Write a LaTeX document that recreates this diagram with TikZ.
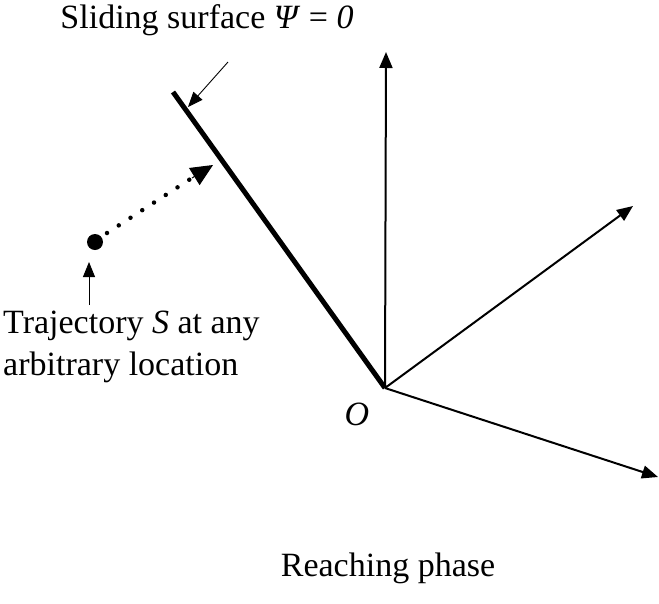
\documentclass[tikz,border=0pt]{standalone}
\usepackage{fontspec}
\setmainfont{Liberation Serif}
\usetikzlibrary{arrows.meta}
\begin{document}
\begin{tikzpicture}[x=1pt,y=-1pt,
  lbl/.style={font=\fontsize{34}{42}\selectfont, inner sep=0pt},
  axis/.style={line width=2pt, -{Triangle[length=16pt,width=13pt]}},
  pointer/.style={line width=0.9pt, -{Triangle[length=15pt,width=12pt]}}]
\useasboundingbox (0,0) rectangle (659,603);
\coordinate (O) at (385,388);
\coordinate (up) at (386,52);
\coordinate (ur) at (633,206);
\coordinate (dr) at (658,477);
\coordinate (top) at (173,92);
\coordinate (pstart) at (228,62);
\coordinate (ptip) at (188,107);
\coordinate (dottip) at (213,165);
\coordinate (tstart) at (89,305);
\coordinate (ttip) at (89,262);
\node[circle, fill=black, minimum size=16pt, inner sep=0pt] (S) at (95,242) {};
\draw[axis] (O) -- (up);
\draw[axis] (O) -- (ur);
\draw[axis] (O) -- (dr);
\draw[line width=5pt] (O) -- (top);
\draw[pointer] (pstart) -- (ptip);
\draw[pointer] (tstart) -- (ttip);
\draw[line width=4.5pt, line cap=round, dash pattern=on 0pt off 14pt] (S.center) ++(12,-9) -- (195,176);
\draw[line width=1pt, -{Triangle[length=22pt,width=20pt]}] (192,178) -- (dottip);
\node[lbl] (sl) at (207,20) {Sliding surface \textit{Ψ} = \textit{0}};
\node[lbl, align=left, anchor=west] (tr) at (3,347) {Trajectory \textit{S} at any\\arbitrary location};
\node[lbl] (o) at (357,414) {\textit{O}};
\node[lbl] (rp) at (388,568) {Reaching phase};
\end{tikzpicture}
\end{document}
